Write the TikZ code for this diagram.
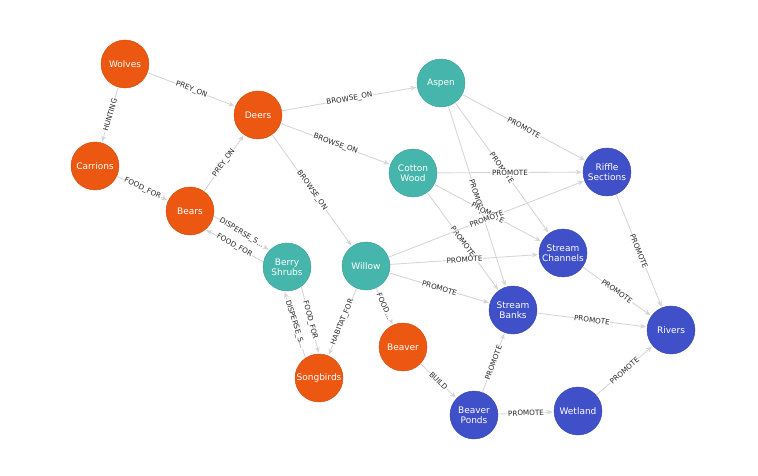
\documentclass[tikz,border=0pt]{standalone}
\usepackage{fontspec}
\setmainfont{DejaVu Sans}
\usetikzlibrary{arrows.meta}

\definecolor{fauna}{RGB}{236,88,18}
\definecolor{flora}{RGB}{70,182,172}
\definecolor{water}{RGB}{64,80,200}
\definecolor{edgegray}{RGB}{214,214,214}

\begin{document}
\begin{tikzpicture}[
  x=1pt, y=-1pt,
  ent/.style={circle, minimum size=48pt, inner sep=0pt, align=center, text=white,
    font=\fontsize{9}{10}\selectfont},
  animal/.style={ent, fill=fauna, draw=fauna!85!black, line width=0.4pt},
  plant/.style={ent, fill=flora, draw=flora!85!black, line width=0.4pt},
  habitat/.style={ent, fill=water, draw=water!85!black, line width=0.4pt},
  rel/.style={-{Stealth[length=6pt, width=5pt]}, draw=edgegray, line width=0.9pt, shorten >=1pt},
  lbl/.style={sloped, fill=white, inner sep=0.6pt, text=black!85, font=\fontsize{7.2}{8}\selectfont}
]
\useasboundingbox (0,0) rectangle (758,476);

% animals
\node[animal] (wolves) at (125,64) {Wolves};
\node[animal] (deers) at (258,115) {Deers};
\node[animal] (carrions) at (95,166) {Carrions};
\node[animal] (bears) at (190,211) {Bears};
\node[animal] (beaver) at (403,347) {Beaver};
\node[animal] (songbirds) at (319,378) {Songbirds};

% plants
\node[plant] (aspen) at (441,83) {Aspen};
\node[plant] (cotton) at (413,173) {Cotton\\Wood};
\node[plant] (berry) at (287,267) {Berry\\Shrubs};
\node[plant] (willow) at (366,266) {Willow};

% habitats
\node[habitat] (riffle) at (607,172) {Riffle\\Sections};
\node[habitat] (channels) at (563,253) {Stream\\Channels};
\node[habitat] (banks) at (513,310) {Stream\\Banks};
\node[habitat] (rivers) at (671,330) {Rivers};
\node[habitat] (ponds) at (474,415) {Beaver\\Ponds};
\node[habitat] (wetland) at (578,411) {Wetland};

% food web
\draw[rel] (wolves) -- node[lbl] {PREY\_ON} (deers);
\draw[rel] (wolves) -- node[lbl] {HUNTING} (carrions);
\draw[rel] (carrions) -- node[lbl] {FOOD\_FOR} (bears);
\draw[rel] (bears) -- node[lbl] {PREY\_ON} (deers);
\draw[rel] (deers) -- node[lbl] {BROWSE\_ON} (aspen);
\draw[rel] (deers) -- node[lbl] {BROWSE\_ON} (cotton);
\draw[rel] (deers) -- node[lbl] {BROWSE\_ON} (willow);
\draw[rel] (bears.-12) -- node[lbl] {DISPERSE\_S...} (berry.136);
\draw[rel] (berry.168) -- node[lbl] {FOOD\_FOR} (bears.-50);
\draw[rel] (berry.-54) -- node[lbl] {FOOD\_FOR} (songbirds.90);
\draw[rel] (songbirds.124) -- node[lbl] {DISPERSE\_S...} (berry.-96);
\draw[rel] (willow) -- node[lbl] {HABITAT\_FOR} (songbirds);
\draw[rel] (willow) -- node[lbl] {FOOD...} (beaver);
\draw[rel] (beaver) -- node[lbl] {BUILD} (ponds);

% habitat effects
\draw[rel] (aspen) -- node[lbl] {PROMOTE} (riffle);
\draw[rel] (aspen) -- node[lbl] {PROMOTE} (channels);
\draw[rel] (aspen) -- node[lbl] {PROMOTE} (banks);
\draw[rel] (cotton) -- node[lbl] {PROMOTE} (riffle);
\draw[rel] (cotton) -- node[lbl] {PROMOTE} (channels);
\draw[rel] (cotton) -- node[lbl] {PROMOTE} (banks);
\draw[rel] (willow) -- node[lbl] {PROMOTE} (riffle);
\draw[rel] (willow) -- node[lbl] {PROMOTE} (channels);
\draw[rel] (willow) -- node[lbl] {PROMOTE} (banks);
\draw[rel] (riffle) -- node[lbl] {PROMOTE} (rivers);
\draw[rel] (channels) -- node[lbl] {PROMOTE} (rivers);
\draw[rel] (banks) -- node[lbl] {PROMOTE} (rivers);
\draw[rel] (ponds) -- node[lbl] {PROMOTE} (banks);
\draw[rel] (ponds) -- node[lbl] {PROMOTE} (wetland);
\draw[rel] (wetland) -- node[lbl] {PROMOTE} (rivers);

\end{tikzpicture}
\end{document}
